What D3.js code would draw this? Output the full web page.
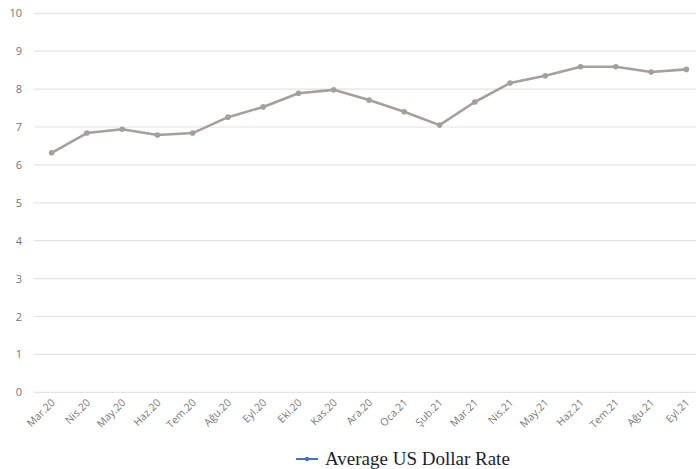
<!DOCTYPE html>
<html><head><meta charset="utf-8">
<script src="https://cdn.jsdelivr.net/npm/d3@7"></script>
<style>html,body{margin:0;padding:0;background:#fff;}svg{display:block;}</style>
</head><body>
<svg id="c" width="696" height="469"></svg>
<script>
const categories = ["Mar.20","Nis.20","May.20","Haz.20","Tem.20","Ağu.20","Eyl.20","Eki.20","Kas.20","Ara.20","Oca.21","Şub.21","Mar.21","Nis.21","May.21","Haz.21","Tem.21","Ağu.21","Eyl.21"];
const values = [6.32,6.84,6.94,6.79,6.84,7.26,7.53,7.89,7.98,7.71,7.40,7.05,7.66,8.16,8.35,8.59,8.59,8.45,8.52];
const yTicks = [0,1,2,3,4,5,6,7,8,9,10];
const seriesName = "Average US Dollar Rate";

(function(){
const svg = d3.select("#c");
const mLeft = 34, mRight = 704, mTop = 13.3, mBottom = 392.3;
const x = d3.scaleBand().domain(categories).range([mLeft, mRight]);
const y = d3.scaleLinear().domain([0,10]).range([mBottom, mTop]);
const cx = d => x(d) + x.bandwidth()/2;

// gridlines
svg.append("g").selectAll("line").data(yTicks).join("line")
  .attr("x1", mLeft).attr("x2", 696)
  .attr("y1", d => y(d)).attr("y2", d => y(d))
  .attr("stroke", "#e3e3e3").attr("stroke-width", 1.2);

// y axis labels
const yAxis = d3.axisLeft(y).tickValues(yTicks).tickSize(0).tickPadding(0);
const gy = svg.append("g").attr("transform", `translate(22,0)`).call(yAxis);
gy.select(".domain").remove();
gy.selectAll("text").attr("fill", "#767676").style("font-family", "Open Sans, sans-serif").style("font-size", "11px");

// x axis labels
const xAxis = d3.axisBottom(x).tickSize(0).tickPadding(0);
const gx = svg.append("g").attr("transform", `translate(0,${mBottom})`).call(xAxis);
gx.select(".domain").remove();
gx.selectAll("text")
  .attr("fill", "#7a7a7a").style("font-family", "Open Sans, sans-serif").style("font-size", "10.5px")
  .attr("text-anchor", "end").attr("dy", null).attr("y", 0)
  .attr("transform", "translate(4,11) rotate(-45)");

// line
const line = d3.line().x((d,i) => cx(categories[i])).y(d => y(d));
svg.append("path").datum(values).attr("d", line)
  .attr("fill", "none").attr("stroke", "#a59f9d").attr("stroke-width", 2.6).attr("stroke-linejoin", "round");
svg.append("g").selectAll("circle").data(values).join("circle")
  .attr("cx", (d,i) => cx(categories[i])).attr("cy", d => y(d)).attr("r", 2.8)
  .attr("fill", "#a59f9d");

// legend
const lg = svg.append("g");
lg.append("line").attr("x1", 296).attr("x2", 318).attr("y1", 459).attr("y2", 459)
  .attr("stroke", "#4472c4").attr("stroke-width", 2);
lg.append("circle").attr("cx", 307).attr("cy", 459).attr("r", 2.2).attr("fill", "#4472c4");
lg.append("text").attr("x", 325).attr("y", 465).text(seriesName)
  .attr("fill", "#1d1d2e").style("font-family", "Liberation Serif, serif").style("font-size", "19px");
})();
</script>
</body></html>
